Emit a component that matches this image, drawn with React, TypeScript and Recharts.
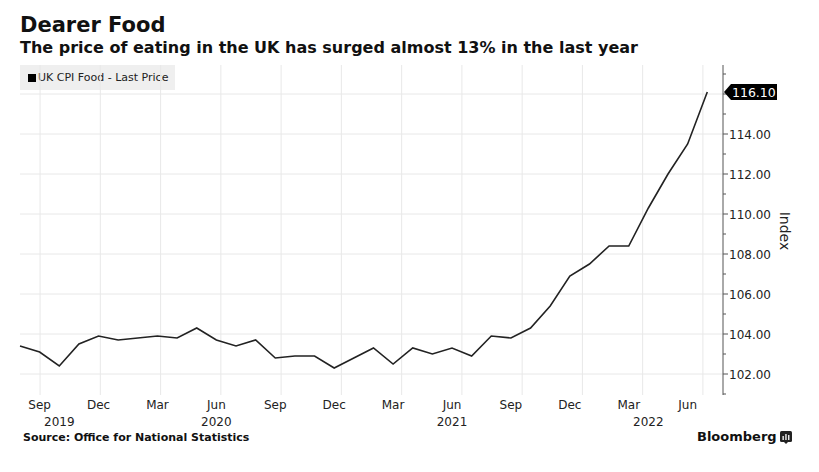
import { LineChart, Line, XAxis, YAxis, CartesianGrid } from 'recharts'

const MONTHS = [
  'Aug 2019', 'Sep 2019', 'Oct 2019', 'Nov 2019', 'Dec 2019',
  'Jan 2020', 'Feb 2020', 'Mar 2020', 'Apr 2020', 'May 2020', 'Jun 2020',
  'Jul 2020', 'Aug 2020', 'Sep 2020', 'Oct 2020', 'Nov 2020', 'Dec 2020',
  'Jan 2021', 'Feb 2021', 'Mar 2021', 'Apr 2021', 'May 2021', 'Jun 2021',
  'Jul 2021', 'Aug 2021', 'Sep 2021', 'Oct 2021', 'Nov 2021', 'Dec 2021',
  'Jan 2022', 'Feb 2022', 'Mar 2022', 'Apr 2022', 'May 2022', 'Jun 2022',
  'Jul 2022',
]

const CPI_FOOD = [
  103.4, 103.1, 102.4, 103.5, 103.9,
  103.7, 103.8, 103.9, 103.8, 104.3, 103.7,
  103.4, 103.7, 102.8, 102.9, 102.9, 102.3,
  102.8, 103.3, 102.5, 103.3, 103.0, 103.3,
  102.9, 103.9, 103.8, 104.3, 105.4, 106.9,
  107.5, 108.4, 108.4, 110.3, 112.0, 113.5,
  116.1,
]

const TICK_MONTHS = ['Sep', 'Dec', 'Mar', 'Jun']
const YEAR_LABELS = ['2019', '2020', '2021', '2022']
const YEAR_LABEL_MONTHS = ['Oct 2019', 'Jun 2020', 'Jun 2021', 'Apr 2022']
const Y_MINOR = [101, 103, 105, 107, 109, 111, 113, 115, 117]
const Y_MAJOR = [102, 104, 106, 108, 110, 112, 114, 116]

const FONT = '"DejaVu Sans", Verdana, sans-serif'
const LAST = CPI_FOOD[CPI_FOOD.length - 1]

const data = MONTHS.map((month, i) => ({ i, month, value: CPI_FOOD[i] }))
const monthTicks = data
  .filter((d) => TICK_MONTHS.includes(d.month.slice(0, 3)))
  .map((d) => d.i)
const yearTicks = YEAR_LABEL_MONTHS.map((m) => MONTHS.indexOf(m))
const yTicks = [...Y_MINOR, ...Y_MAJOR, LAST].sort((a, b) => a - b)

function MonthTick({ x, y, payload }: any) {
  return (
    <text x={x} y={y} dy={14} textAnchor="middle" fontSize={12} fill="#222" fontFamily={FONT}>
      {MONTHS[payload.value].slice(0, 3)}
    </text>
  )
}

function YearTick({ x, y, payload }: any) {
  return (
    <text x={x} y={y} dy={14} textAnchor="middle" fontSize={12} fill="#222" fontFamily={FONT}>
      {YEAR_LABELS[yearTicks.indexOf(payload.value)]}
    </text>
  )
}

function IndexTick({ x, y, payload }: any) {
  const v = payload.value
  if (v === LAST) {
    // last value tag sits on top of the axis
    return (
      <g>
        <polygon
          points={`${x + 1},${y} ${x + 8},${y - 8} ${x + 54},${y - 8} ${x + 54},${y + 8} ${x + 8},${y + 8}`}
          fill="#000"
        />
        <text x={x + 9} y={y + 4.5} fontSize={12.5} fill="#fff" fontFamily={FONT}>
          {v.toFixed(2)}
        </text>
      </g>
    )
  }
  const major = Y_MAJOR.includes(v)
  return (
    <g>
      <line x1={x} x2={x + (major ? 5 : 3)} y1={y} y2={y} stroke="#555" />
      {major && Math.abs(v - LAST) > 0.5 && (
        <text x={x + 6} y={y + 4.5} fontSize={12} fill="#222" fontFamily={FONT}>
          {v.toFixed(2)}
        </text>
      )}
    </g>
  )
}

export default function App() {
  return (
    <div style={{ position: 'absolute', left: 0, top: 0, width: 819, height: 472, background: '#fff', fontFamily: FONT, color: '#111' }}>
      <div style={{ position: 'absolute', left: 20, top: 12, fontSize: 21, fontWeight: 'bold', lineHeight: '26px' }}>
        Dearer Food
      </div>
      <div style={{ position: 'absolute', left: 20, top: 38, fontSize: 16, fontWeight: 'bold', lineHeight: '20px', whiteSpace: 'nowrap' }}>
        The price of eating in the UK has surged almost 13% in the last year
      </div>
      <div style={{ position: 'absolute', left: 20, top: 65, width: 155, height: 25, background: '#efefef' }}>
        <div style={{ position: 'absolute', left: 8, top: 9, width: 8, height: 8, background: '#000' }} />
        <div style={{ position: 'absolute', left: 18, top: 5, fontSize: 11, lineHeight: '15px', color: '#222', whiteSpace: 'nowrap' }}>
          UK CPI Food - Last Price
        </div>
      </div>
      <div style={{ position: 'absolute', left: 0, top: 0 }}>
        <LineChart width={819} height={472} data={data} margin={{ top: 65, right: 16, bottom: 42, left: 20 }}>
          <CartesianGrid stroke="#e8e8e8" horizontalValues={Y_MAJOR} verticalValues={monthTicks} />
          <XAxis
            xAxisId="m"
            dataKey="i"
            type="number"
            domain={[0, 35.8]}
            ticks={monthTicks}
            interval={0}
            height={17}
            axisLine={false}
            tickLine={false}
            tickSize={0}
            tickMargin={0}
            tick={<MonthTick />}
          />
          <XAxis
            xAxisId="y"
            dataKey="i"
            type="number"
            domain={[0, 35.8]}
            ticks={yearTicks}
            interval={0}
            height={18}
            axisLine={false}
            tickLine={false}
            tickSize={0}
            tickMargin={0}
            tick={<YearTick />}
          />
          <YAxis
            orientation="right"
            width={80}
            domain={[100.95, 117.45]}
            ticks={yTicks}
            interval={0}
            axisLine={{ stroke: '#555' }}
            tickLine={false}
            tickSize={0}
            tickMargin={0}
            tick={<IndexTick />}
          />
          <Line
            xAxisId="m"
            type="linear"
            dataKey="value"
            stroke="#222"
            strokeWidth={1.6}
            dot={false}
            isAnimationActive={false}
          />
        </LineChart>
      </div>
      <div style={{ position: 'absolute', left: 785, top: 231, transform: 'translate(-50%, -50%) rotate(90deg)', fontSize: 14, color: '#222' }}>
        Index
      </div>
      <div style={{ position: 'absolute', left: 23, top: 430, fontSize: 11, fontWeight: 'bold', lineHeight: '15px', whiteSpace: 'nowrap' }}>
        Source: Office for National Statistics
      </div>
      <div style={{ position: 'absolute', left: 697, top: 428, fontSize: 13, fontWeight: 'bold', lineHeight: '17px', whiteSpace: 'nowrap' }}>
        Bloomberg
      </div>
      <svg style={{ position: 'absolute', left: 780, top: 431 }} width={12} height={13} viewBox="0 0 12 13">
        <rect x={0} y={0} width={12} height={11} rx={1.5} fill="#222" />
        <polygon points="4,11 6,13 8,11" fill="#222" />
        <rect x={2.5} y={5} width={1.3} height={4} fill="#fff" />
        <rect x={5.3} y={3} width={1.3} height={6} fill="#fff" />
        <rect x={8.1} y={4} width={1.3} height={5} fill="#fff" />
      </svg>
    </div>
  )
}
